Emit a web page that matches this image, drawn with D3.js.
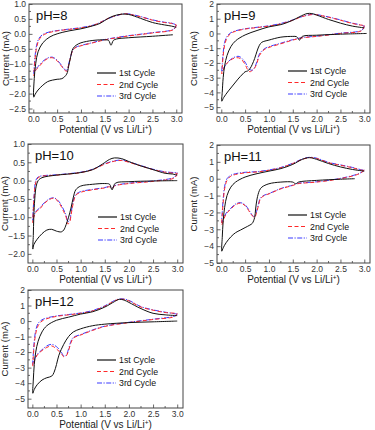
<!DOCTYPE html>
<html>
<head>
<meta charset="UTF-8">
<script src="https://d3js.org/d3.v7.min.js"></script>
<style>
  html, body { margin:0; padding:0; background:#fff; }
  svg { display:block; font-family: "Liberation Sans", Arial, sans-serif; }
</style>
</head>
<body>
<div class="chart"></div>
<script>
// Potential (V) / current (mA) pairs, one array per scan
var ph8_c1 = [[2.93,-0.03],[2.5,-0.08],[2.0,-0.13],[1.75,-0.17],[1.68,-0.22],[1.63,-0.38],[1.58,-0.22],[1.5,-0.2],[1.25,-0.22],[1.0,-0.3],[0.9,-0.38],[0.83,-0.5],[0.78,-0.8],[0.74,-1.1],[0.7,-1.35],[0.6,-1.5],[0.5,-1.52],[0.4,-1.55],[0.3,-1.6],[0.2,-1.72],[0.1,-1.88],[0.04,-2.02],[0.01,-2.12],
  [0.02,-1.5],[0.05,-1.0],[0.1,-0.6],[0.2,-0.3],[0.35,-0.1],[0.5,0.0],[0.75,0.1],[1.0,0.17],[1.25,0.27],[1.4,0.35],[1.5,0.45],[1.65,0.58],[1.85,0.66],[2.0,0.65],[2.25,0.52],[2.5,0.38],[2.75,0.3],[2.9,0.26],[3.0,0.22]];
var ph8_c2 = [[3.0,0.3],[2.95,0.15],[2.5,0.03],[2.0,-0.07],[1.75,-0.13],[1.5,-0.2],[1.25,-0.3],[1.0,-0.4],[0.9,-0.45],[0.83,-0.55],[0.78,-0.8],[0.74,-1.05],[0.7,-1.25],[0.65,-1.2],[0.6,-1.1],[0.5,-0.9],[0.4,-0.8],[0.3,-0.83],[0.2,-0.95],[0.12,-1.1],[0.06,-1.2],[0.02,-1.35],[0.01,-1.4],
  [0.02,-1.2],[0.04,-0.8],[0.07,-0.45],[0.12,-0.2],[0.2,-0.05],[0.35,0.05],[0.5,0.1],[0.75,0.15],[1.0,0.2],[1.25,0.28],[1.4,0.38],[1.5,0.46],[1.65,0.57],[1.9,0.67],[2.0,0.66],[2.25,0.57],[2.5,0.46],[2.75,0.38],[2.9,0.35],[3.0,0.3]];
var ph8_c3 = [[3.0,0.3],[2.95,0.16],[2.5,0.04],[2.0,-0.06],[1.75,-0.12],[1.5,-0.19],[1.25,-0.29],[1.0,-0.39],[0.9,-0.44],[0.83,-0.54],[0.78,-0.78],[0.74,-1.02],[0.7,-1.22],[0.65,-1.18],[0.6,-1.07],[0.5,-0.88],[0.4,-0.78],[0.3,-0.81],[0.2,-0.92],[0.12,-1.06],[0.06,-1.16],[0.02,-1.3],[0.01,-1.33],
  [0.02,-1.1],[0.04,-0.7],[0.07,-0.38],[0.12,-0.15],[0.2,-0.02],[0.35,0.07],[0.5,0.11],[0.75,0.16],[1.0,0.21],[1.25,0.29],[1.4,0.38],[1.5,0.46],[1.65,0.56],[1.9,0.67],[2.0,0.67],[2.25,0.58],[2.5,0.47],[2.75,0.39],[2.9,0.36],[3.0,0.3]];

var ph9_c1 = [[3.05,0.0],[2.5,-0.05],[2.0,-0.12],[1.7,-0.2],[1.64,-0.45],[1.58,-0.22],[1.5,-0.2],[1.25,-0.25],[1.0,-0.45],[0.85,-0.6],[0.8,-0.8],[0.75,-1.2],[0.7,-1.7],[0.65,-2.1],[0.6,-2.4],[0.55,-2.55],[0.5,-2.6],[0.45,-2.75],[0.35,-3.1],[0.25,-3.5],[0.15,-3.9],[0.05,-4.35],[0.01,-4.6],
  [0.02,-4.0],[0.04,-3.0],[0.07,-2.2],[0.12,-1.5],[0.2,-0.9],[0.3,-0.5],[0.5,-0.1],[0.75,0.2],[1.0,0.45],[1.25,0.6],[1.5,0.9],[1.65,1.15],[1.8,1.35],[1.9,1.35],[2.0,1.25],[2.25,0.95],[2.5,0.7],[2.75,0.5],[3.0,0.38]];
var ph9_c2 = [[3.0,0.55],[2.95,0.2],[2.5,0.0],[2.0,-0.2],[1.7,-0.3],[1.5,-0.45],[1.25,-0.7],[1.0,-0.95],[0.9,-1.1],[0.8,-1.5],[0.75,-2.0],[0.7,-2.35],[0.65,-2.5],[0.6,-2.6],[0.55,-2.45],[0.5,-2.1],[0.4,-1.7],[0.3,-1.65],[0.2,-1.8],[0.1,-2.1],[0.04,-2.5],[0.01,-2.75],
  [0.02,-2.3],[0.04,-1.5],[0.07,-0.8],[0.12,-0.3],[0.2,0.0],[0.3,0.15],[0.5,0.3],[0.75,0.4],[1.0,0.5],[1.25,0.65],[1.5,0.9],[1.7,1.15],[1.9,1.28],[2.0,1.27],[2.25,1.1],[2.5,0.9],[2.75,0.68],[2.9,0.58],[3.0,0.55]];
var ph9_c3 = [[3.0,0.5],[2.95,0.22],[2.5,0.02],[2.0,-0.18],[1.7,-0.28],[1.5,-0.42],[1.25,-0.66],[1.0,-0.9],[0.9,-1.05],[0.8,-1.4],[0.75,-1.9],[0.7,-2.3],[0.65,-2.5],[0.6,-2.45],[0.55,-2.25],[0.5,-1.95],[0.4,-1.6],[0.35,-1.55],[0.25,-1.65],[0.15,-1.9],[0.08,-2.2],[0.03,-2.45],[0.01,-2.6],
  [0.02,-2.1],[0.04,-1.3],[0.07,-0.6],[0.12,-0.2],[0.2,0.05],[0.3,0.18],[0.5,0.32],[0.75,0.42],[1.0,0.52],[1.25,0.68],[1.5,0.92],[1.7,1.15],[1.9,1.3],[2.0,1.28],[2.25,1.12],[2.5,0.92],[2.75,0.7],[2.9,0.6],[3.0,0.5]];

var ph10_c1 = [[3.0,0.0],[2.5,-0.01],[2.0,-0.03],[1.72,-0.07],[1.65,-0.25],[1.6,-0.1],[1.5,-0.08],[1.25,-0.1],[1.0,-0.15],[0.9,-0.25],[0.85,-0.45],[0.8,-0.75],[0.75,-1.0],[0.7,-1.2],[0.65,-1.35],[0.6,-1.4],[0.5,-1.38],[0.4,-1.33],[0.3,-1.35],[0.2,-1.45],[0.1,-1.6],[0.03,-1.75],[0.01,-1.87],
  [0.02,-1.5],[0.03,-1.0],[0.05,-0.5],[0.08,-0.15],[0.12,0.0],[0.2,0.08],[0.5,0.15],[0.75,0.18],[1.0,0.22],[1.25,0.3],[1.45,0.45],[1.6,0.58],[1.7,0.62],[1.85,0.6],[2.0,0.52],[2.25,0.4],[2.5,0.3],[2.75,0.2],[2.9,0.18],[3.0,0.15]];
var ph10_c2 = [[3.0,0.2],[2.95,0.08],[2.5,-0.02],[2.0,-0.08],[1.7,-0.15],[1.65,-0.22],[1.6,-0.17],[1.5,-0.2],[1.25,-0.25],[1.0,-0.32],[0.9,-0.4],[0.85,-0.6],[0.8,-0.95],[0.77,-1.15],[0.73,-1.18],[0.7,-1.0],[0.65,-0.85],[0.55,-0.6],[0.45,-0.48],[0.35,-0.52],[0.25,-0.62],[0.15,-0.78],[0.08,-0.85],[0.03,-1.0],[0.01,-1.15],
  [0.02,-0.8],[0.04,-0.4],[0.07,-0.05],[0.12,0.08],[0.2,0.12],[0.5,0.15],[0.75,0.18],[1.0,0.22],[1.25,0.3],[1.5,0.45],[1.7,0.53],[1.85,0.55],[2.0,0.5],[2.25,0.4],[2.5,0.3],[2.75,0.23],[2.95,0.2],[3.0,0.2]];
var ph10_c3 = [[3.0,0.22],[2.95,0.1],[2.5,-0.01],[2.0,-0.07],[1.7,-0.14],[1.65,-0.2],[1.6,-0.16],[1.5,-0.19],[1.25,-0.24],[1.0,-0.3],[0.9,-0.38],[0.85,-0.55],[0.8,-0.9],[0.77,-1.1],[0.73,-1.12],[0.7,-0.95],[0.65,-0.8],[0.55,-0.57],[0.45,-0.47],[0.35,-0.5],[0.25,-0.6],[0.15,-0.75],[0.08,-0.83],[0.03,-0.97],[0.01,-1.1],
  [0.02,-0.75],[0.04,-0.35],[0.07,0.0],[0.12,0.1],[0.2,0.13],[0.5,0.16],[0.75,0.19],[1.0,0.23],[1.25,0.31],[1.5,0.46],[1.7,0.54],[1.85,0.56],[2.0,0.51],[2.25,0.41],[2.5,0.31],[2.75,0.24],[2.95,0.22],[3.0,0.22]];

var ph11_c1 = [[2.8,0.0],[2.5,-0.03],[2.0,-0.1],[1.62,-0.2],[1.56,-0.3],[1.5,-0.2],[1.25,-0.2],[1.0,-0.3],[0.85,-0.5],[0.8,-0.7],[0.75,-1.2],[0.72,-1.8],[0.7,-2.3],[0.65,-2.65],[0.6,-2.75],[0.5,-2.9],[0.4,-3.05],[0.3,-3.2],[0.2,-3.45],[0.1,-3.8],[0.04,-4.1],[0.01,-4.3],
  [0.02,-3.5],[0.04,-2.5],[0.07,-1.7],[0.12,-1.0],[0.2,-0.5],[0.3,-0.2],[0.5,0.1],[0.75,0.3],[1.0,0.45],[1.25,0.6],[1.5,0.85],[1.7,1.15],[1.85,1.25],[2.0,1.15],[2.25,0.9],[2.5,0.7],[2.75,0.55],[3.0,0.45]];
var ph11_c2 = [[3.0,0.5],[2.9,0.3],[2.5,0.0],[2.0,-0.2],[1.6,-0.3],[1.5,-0.4],[1.25,-0.6],[1.0,-0.9],[0.9,-1.0],[0.82,-1.2],[0.78,-1.6],[0.74,-2.0],[0.7,-2.3],[0.65,-2.2],[0.6,-2.0],[0.5,-1.6],[0.4,-1.45],[0.3,-1.55],[0.2,-1.8],[0.1,-2.1],[0.04,-2.5],[0.01,-2.75],
  [0.02,-2.2],[0.04,-1.4],[0.07,-0.6],[0.12,-0.1],[0.2,0.15],[0.3,0.25],[0.5,0.35],[0.75,0.4],[1.0,0.5],[1.25,0.65],[1.5,0.9],[1.7,1.15],[1.85,1.25],[2.0,1.2],[2.25,0.95],[2.5,0.8],[2.75,0.65],[2.95,0.5],[3.0,0.5]];
var ph11_c3 = [[3.0,0.5],[2.9,0.32],[2.5,0.02],[2.0,-0.18],[1.6,-0.28],[1.5,-0.38],[1.25,-0.58],[1.0,-0.88],[0.9,-0.98],[0.82,-1.15],[0.78,-1.5],[0.74,-1.95],[0.7,-2.25],[0.66,-2.2],[0.6,-1.95],[0.5,-1.55],[0.4,-1.42],[0.3,-1.5],[0.2,-1.75],[0.1,-2.05],[0.04,-2.4],[0.01,-2.6],
  [0.02,-2.0],[0.04,-1.2],[0.07,-0.45],[0.12,0.0],[0.2,0.2],[0.3,0.3],[0.5,0.38],[0.75,0.42],[1.0,0.52],[1.25,0.67],[1.5,0.92],[1.7,1.17],[1.85,1.27],[2.0,1.22],[2.25,0.97],[2.5,0.82],[2.75,0.67],[2.95,0.52],[3.0,0.5]];

var ph12_c1 = [[3.0,0.0],[2.5,-0.05],[2.0,-0.1],[1.5,-0.2],[1.25,-0.3],[1.0,-0.5],[0.85,-0.7],[0.75,-1.0],[0.65,-1.5],[0.55,-2.2],[0.5,-2.8],[0.45,-3.3],[0.4,-3.55],[0.3,-3.65],[0.2,-3.8],[0.1,-4.1],[0.04,-4.4],[0.01,-4.65],
  [0.02,-3.8],[0.04,-2.8],[0.07,-2.0],[0.12,-1.3],[0.2,-0.7],[0.3,-0.3],[0.5,0.05],[0.75,0.25],[1.0,0.45],[1.25,0.6],[1.5,0.9],[1.7,1.25],[1.8,1.4],[1.9,1.35],[2.0,1.2],[2.25,0.8],[2.5,0.5],[2.75,0.4],[3.0,0.35]];
var ph12_c2 = [[3.0,0.5],[2.95,0.3],[2.5,0.1],[2.0,-0.1],[1.5,-0.35],[1.25,-0.6],[1.0,-0.9],[0.85,-1.1],[0.8,-1.4],[0.75,-1.9],[0.7,-2.25],[0.65,-2.3],[0.6,-2.1],[0.5,-1.8],[0.4,-1.6],[0.3,-1.7],[0.2,-1.9],[0.1,-2.2],[0.04,-2.6],[0.01,-2.9],
  [0.02,-2.3],[0.04,-1.5],[0.07,-0.8],[0.12,-0.3],[0.2,0.0],[0.3,0.15],[0.5,0.3],[0.75,0.4],[1.0,0.5],[1.25,0.65],[1.5,0.95],[1.7,1.3],[1.8,1.4],[1.9,1.4],[2.0,1.3],[2.25,0.9],[2.5,0.7],[2.75,0.55],[3.0,0.5]];
var ph12_c3 = [[3.0,0.45],[2.95,0.32],[2.5,0.12],[2.0,-0.08],[1.5,-0.33],[1.25,-0.57],[1.0,-0.87],[0.85,-1.05],[0.8,-1.3],[0.75,-1.8],[0.7,-2.2],[0.65,-2.25],[0.6,-2.0],[0.5,-1.65],[0.4,-1.5],[0.3,-1.6],[0.2,-1.85],[0.1,-2.15],[0.04,-2.5],[0.01,-2.8],
  [0.02,-2.1],[0.04,-1.3],[0.07,-0.6],[0.12,-0.15],[0.2,0.08],[0.3,0.2],[0.5,0.33],[0.75,0.42],[1.0,0.52],[1.25,0.68],[1.5,0.98],[1.7,1.32],[1.8,1.42],[1.9,1.42],[2.0,1.33],[2.25,0.93],[2.5,0.72],[2.75,0.57],[3.0,0.45]];

var cycleNames = ["1st Cycle", "2nd Cycle", "3rd Cycle"];
var phLabels = ["pH=8", "pH=9", "pH=10", "pH=11", "pH=12"];
var xTicks = [0.0, 0.5, 1.0, 1.5, 2.0, 2.5, 3.0];
var yTicks8 = [1.0, 0.5, 0.0, -0.5, -1.0, -1.5, -2.0, -2.5];
var yTicks10 = [1.0, 0.5, 0.0, -0.5, -1.0, -1.5, -2.0];
var yTicksBig = [2, 1, 0, -1, -2, -3, -4, -5];

var styles = [
  {color: "#111", dash: null},
  {color: "#ff2a2a", dash: "4,2.5"},
  {color: "#3a3aff", dash: "5,1.5,1.2,1.5"}
];

// panel frames (pixels) and y ranges
var panels = [
  {label: phLabels[0], data: [ph8_c1, ph8_c2, ph8_c3], yDom: [-2.65, 1.0], yTicks: yTicks8, fmt: ".1f",
   box: {x: 29, y: 4, w: 153, h: 109}, leg: {x: 97, y: 73}},
  {label: phLabels[1], data: [ph9_c1, ph9_c2, ph9_c3], yDom: [-5.4, 2], yTicks: yTicksBig, fmt: "d",
   box: {x: 217, y: 4, w: 153, h: 109}, leg: {x: 288, y: 71}},
  {label: phLabels[2], data: [ph10_c1, ph10_c2, ph10_c3], yDom: [-2.25, 1.0], yTicks: yTicks10, fmt: ".1f",
   box: {x: 28, y: 144, w: 155, h: 119}, leg: {x: 98, y: 217}},
  {label: phLabels[3], data: [ph11_c1, ph11_c2, ph11_c3], yDom: [-5, 2], yTicks: yTicksBig, fmt: "d",
   box: {x: 217, y: 145, w: 153, h: 118}, leg: {x: 288, y: 215}},
  {label: phLabels[4], data: [ph12_c1, ph12_c2, ph12_c3], yDom: [-5.6, 2], yTicks: yTicksBig, fmt: "d",
   box: {x: 28, y: 290, w: 155, h: 118}, leg: {x: 97, y: 360}}
];

var svg = d3.select(".chart").append("svg")
  .attr("width", 375).attr("height", 430);

panels.forEach(function(p) {
  var b = p.box;
  var g = svg.append("g").attr("transform", "translate(" + b.x + "," + b.y + ")");

  var x = d3.scaleLinear().domain([-0.09, 3.12]).range([0, b.w]);
  var y = d3.scaleLinear().domain(p.yDom).range([b.h, 0]);

  var yFmt = function(d) { return p.fmt == "d" ? d3.format("d")(d) : d3.format(".1f")(d); };

  // minor ticks
  var xMinor = d3.range(0.25, 3.0, 0.5);
  g.selectAll(".xminor").data(xMinor).enter().append("line")
    .attr("x1", function(d) { return x(d); }).attr("x2", function(d) { return x(d); })
    .attr("y1", b.h).attr("y2", b.h - 2)
    .attr("stroke", "#444").attr("stroke-width", 0.8);

  var yStep = p.yTicks[0] - p.yTicks[1];
  var yMinor = p.yTicks.slice(1).map(function(d) { return d + yStep / 2; });
  g.selectAll(".yminor").data(yMinor).enter().append("line")
    .attr("x1", 0).attr("x2", 2)
    .attr("y1", function(d) { return y(d); }).attr("y2", function(d) { return y(d); })
    .attr("stroke", "#444").attr("stroke-width", 0.8);

  // Add x-axis
  var xAxis = g.append("g")
    .attr("transform", "translate(0," + b.h + ")")
    .call(d3.axisBottom(x).tickValues(xTicks).tickFormat(d3.format(".1f")).tickSizeInner(-3.5).tickSizeOuter(0).tickPadding(3));

  // Add y-axis
  var yAxis = g.append("g")
    .call(d3.axisLeft(y).tickValues(p.yTicks).tickFormat(yFmt).tickSizeInner(-3.5).tickSizeOuter(0).tickPadding(3));

  [xAxis, yAxis].forEach(function(a) {
    a.select(".domain").remove();
    a.selectAll(".tick line").attr("stroke", "#444").attr("stroke-width", 0.8);
    a.selectAll("text").attr("fill", "#333").style("font-size", "8.5px")
      .style("font-family", "'Liberation Sans', Arial, sans-serif");
  });

  // curves
  var line = d3.line()
    .x(function(d) { return x(d[0]); })
    .y(function(d) { return y(d[1]); })
    .curve(d3.curveCatmullRom.alpha(0.5));

  p.data.slice().reverse().forEach(function(series, ri) {
    var i = p.data.length - 1 - ri;
    g.append("path")
      .datum(series)
      .attr("d", line)
      .attr("fill", "none")
      .attr("stroke", styles[i].color)
      .attr("stroke-width", 1)
      .attr("stroke-dasharray", styles[i].dash);
  });

  // frame
  g.append("rect").attr("width", b.w).attr("height", b.h)
    .attr("fill", "none").attr("stroke", "#444").attr("stroke-width", 1);

  // pH label
  g.append("text")
    .attr("x", 7).attr("y", 16)
    .attr("fill", "#111")
    .style("font-size", "13px")
    .text(p.label);

  // legend
  var leg = svg.append("g").attr("transform", "translate(" + p.leg.x + "," + p.leg.y + ")");
  cycleNames.forEach(function(name, i) {
    leg.append("line")
      .attr("x1", 0).attr("x2", 19)
      .attr("y1", i * 11.5).attr("y2", i * 11.5)
      .attr("stroke", styles[i].color).attr("stroke-width", 1.2)
      .attr("stroke-dasharray", styles[i].dash);
    leg.append("text")
      .attr("x", 22).attr("y", i * 11.5 + 3)
      .attr("fill", "#111")
      .style("font-size", "8.8px")
      .text(name);
  });

  // axis titles
  var xt = g.append("text")
    .attr("x", b.w / 2).attr("y", b.h + 20)
    .attr("text-anchor", "middle")
    .attr("fill", "#222")
    .style("font-size", "10px");
  xt.append("tspan").text("Potential (V vs Li/Li");
  xt.append("tspan").attr("dy", -3.5).style("font-size", "6.5px").text("+");
  xt.append("tspan").attr("dy", 3.5).text(")");

  g.append("text")
    .attr("transform", "translate(" + (-20) + "," + (b.h / 2) + ") rotate(-90)")
    .attr("text-anchor", "middle")
    .attr("fill", "#222")
    .style("font-size", "9.5px")
    .text("Current (mA)");
});
</script>
</body>
</html>
